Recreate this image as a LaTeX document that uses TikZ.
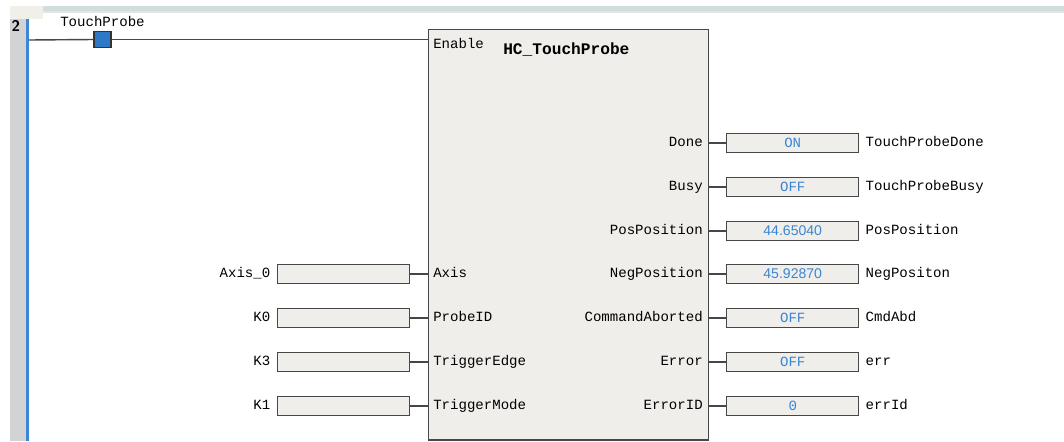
\documentclass[tikz,border=0pt]{standalone}
\usepackage{fontspec}
\setmonofont{Liberation Mono}
\newfontfamily\numfont{Liberation Sans}
\usetikzlibrary{positioning}
\definecolor{blockbg}{HTML}{EFEEEA}
\definecolor{wiregray}{HTML}{474747}
\definecolor{valblue}{HTML}{3A86D4}
\definecolor{railblue}{HTML}{3C86D4}
\definecolor{contactblue}{HTML}{2E78C8}
\definecolor{gutter}{HTML}{D3D3D5}
\definecolor{topband}{HTML}{D2DEDE}
\definecolor{corner}{HTML}{F0EFEA}

\begin{document}
\begin{tikzpicture}[x=0.025cm, y=-0.025cm,
      font=\ttfamily\fontsize{10}{12}\selectfont,
      fblock/.style={draw=wiregray, line width=1pt, fill=blockbg, anchor=north west, inner sep=0pt, minimum width=7cm, minimum height=10.25cm},
      valbox/.style={draw=wiregray, line width=1pt, fill=blockbg, inner sep=0pt, minimum width=3.3cm, minimum height=0.48cm, text=valblue},
      pinlab/.style={inner sep=0pt, text height=1.5ex, text depth=0.2ex},
      wire/.style={draw=wiregray, line width=1pt}]
    \useasboundingbox[fill=white] (0,0) rectangle (1064,441);
    % editor frame
    \fill[topband] (43,6) rectangle (1064,11);
    \fill[gutter!60] (43,11) rectangle (1064,12.5);
    \fill[corner] (10,6) rectangle (43,19);
    \fill[gutter] (10,19) rectangle (26,441);
    \fill[railblue] (26,19) rectangle (29,441);
    \node[font=\sffamily\bfseries\fontsize{11}{12}\selectfont, inner sep=0pt] (rung) at (16,26) {2};
    \coordinate (rail) at (29,40);
    % contact
    \node[draw=black!80, line width=1pt, fill=contactblue, minimum width=0.42cm, minimum height=0.4cm, inner sep=0pt] (tp) at (102.5,39.5) {};
    \node[pinlab, above=0.08cm of tp] (tplab) {TouchProbe};
    % function block
    \node[fblock] (blk) at (428,29) {};
    \node[pinlab, anchor=west] (en) at (433,45) {Enable};
    \node[pinlab, anchor=west, font=\ttfamily\bfseries\fontsize{11.5}{13}\selectfont] (title) at (503,51) {HC\_TouchProbe};
    \draw[wire] (rail) -- (tp.west);
    \draw[wire] (tp.east) -- (tp.east -| blk.west);
    % outputs
    \node[pinlab, anchor=east] (done) at (703,143) {Done};
    \node[pinlab, anchor=east] (busy) at (703,187) {Busy};
    \node[pinlab, anchor=east] (ppos) at (703,231) {PosPosition};
    \node[pinlab, anchor=east] (npos) at (703,274) {NegPosition};
    \node[pinlab, anchor=east] (abrt) at (703,318) {CommandAborted};
    \node[pinlab, anchor=east] (err) at (703,362) {Error};
    \node[pinlab, anchor=east] (errid) at (703,406) {ErrorID};
    \node[valbox, anchor=west] (vdone) at (726,143) {ON};
    \node[valbox, anchor=west] (vbusy) at (726,187) {OFF};
    \node[valbox, anchor=west, font=\numfont\fontsize{10}{12}\selectfont] (vppos) at (726,231) {44.65040};
    \node[valbox, anchor=west, font=\numfont\fontsize{10}{12}\selectfont] (vnpos) at (726,274) {45.92870};
    \node[valbox, anchor=west] (vabrt) at (726,318) {OFF};
    \node[valbox, anchor=west] (verr) at (726,362) {OFF};
    \node[valbox, anchor=west] (verrid) at (726,406) {0};
    \node[pinlab, right=0.15cm of vdone] (ndone) {TouchProbeDone};
    \node[pinlab, right=0.15cm of vbusy] (nbusy) {TouchProbeBusy};
    \node[pinlab, right=0.15cm of vppos] (nppos) {PosPosition};
    \node[pinlab, right=0.15cm of vnpos] (nnpos) {NegPositon};
    \node[pinlab, right=0.15cm of vabrt] (nabrt) {CmdAbd};
    \node[pinlab, right=0.15cm of verr] (nerr) {err};
    \node[pinlab, right=0.15cm of verrid] (nerrid) {errId};
    \draw[wire] (vdone.west -| blk.east) -- (vdone.west);
    \draw[wire] (vbusy.west -| blk.east) -- (vbusy.west);
    \draw[wire] (vppos.west -| blk.east) -- (vppos.west);
    \draw[wire] (vnpos.west -| blk.east) -- (vnpos.west);
    \draw[wire] (vabrt.west -| blk.east) -- (vabrt.west);
    \draw[wire] (verr.west -| blk.east) -- (verr.west);
    \draw[wire] (verrid.west -| blk.east) -- (verrid.west);
    % inputs
    \node[pinlab, anchor=west] (axis) at (433,274) {Axis};
    \node[pinlab, anchor=west] (probe) at (433,318) {ProbeID};
    \node[pinlab, anchor=west] (tedge) at (433,362) {TriggerEdge};
    \node[pinlab, anchor=west] (tmode) at (433,406) {TriggerMode};
    \node[valbox, anchor=east] (iaxis) at (410,274) {};
    \node[valbox, anchor=east] (iprobe) at (410,318) {};
    \node[valbox, anchor=east] (iedge) at (410,362) {};
    \node[valbox, anchor=east] (imode) at (410,406) {};
    \node[pinlab, left=0.15cm of iaxis] (naxis) {Axis\_0};
    \node[pinlab, left=0.15cm of iprobe] (nprobe) {K0};
    \node[pinlab, left=0.15cm of iedge] (nedge) {K3};
    \node[pinlab, left=0.15cm of imode] (nmode) {K1};
    \draw[wire] (iaxis.east) -- (iaxis.east -| blk.west);
    \draw[wire] (iprobe.east) -- (iprobe.east -| blk.west);
    \draw[wire] (iedge.east) -- (iedge.east -| blk.west);
    \draw[wire] (imode.east) -- (imode.east -| blk.west);
  \end{tikzpicture}
\end{document}
